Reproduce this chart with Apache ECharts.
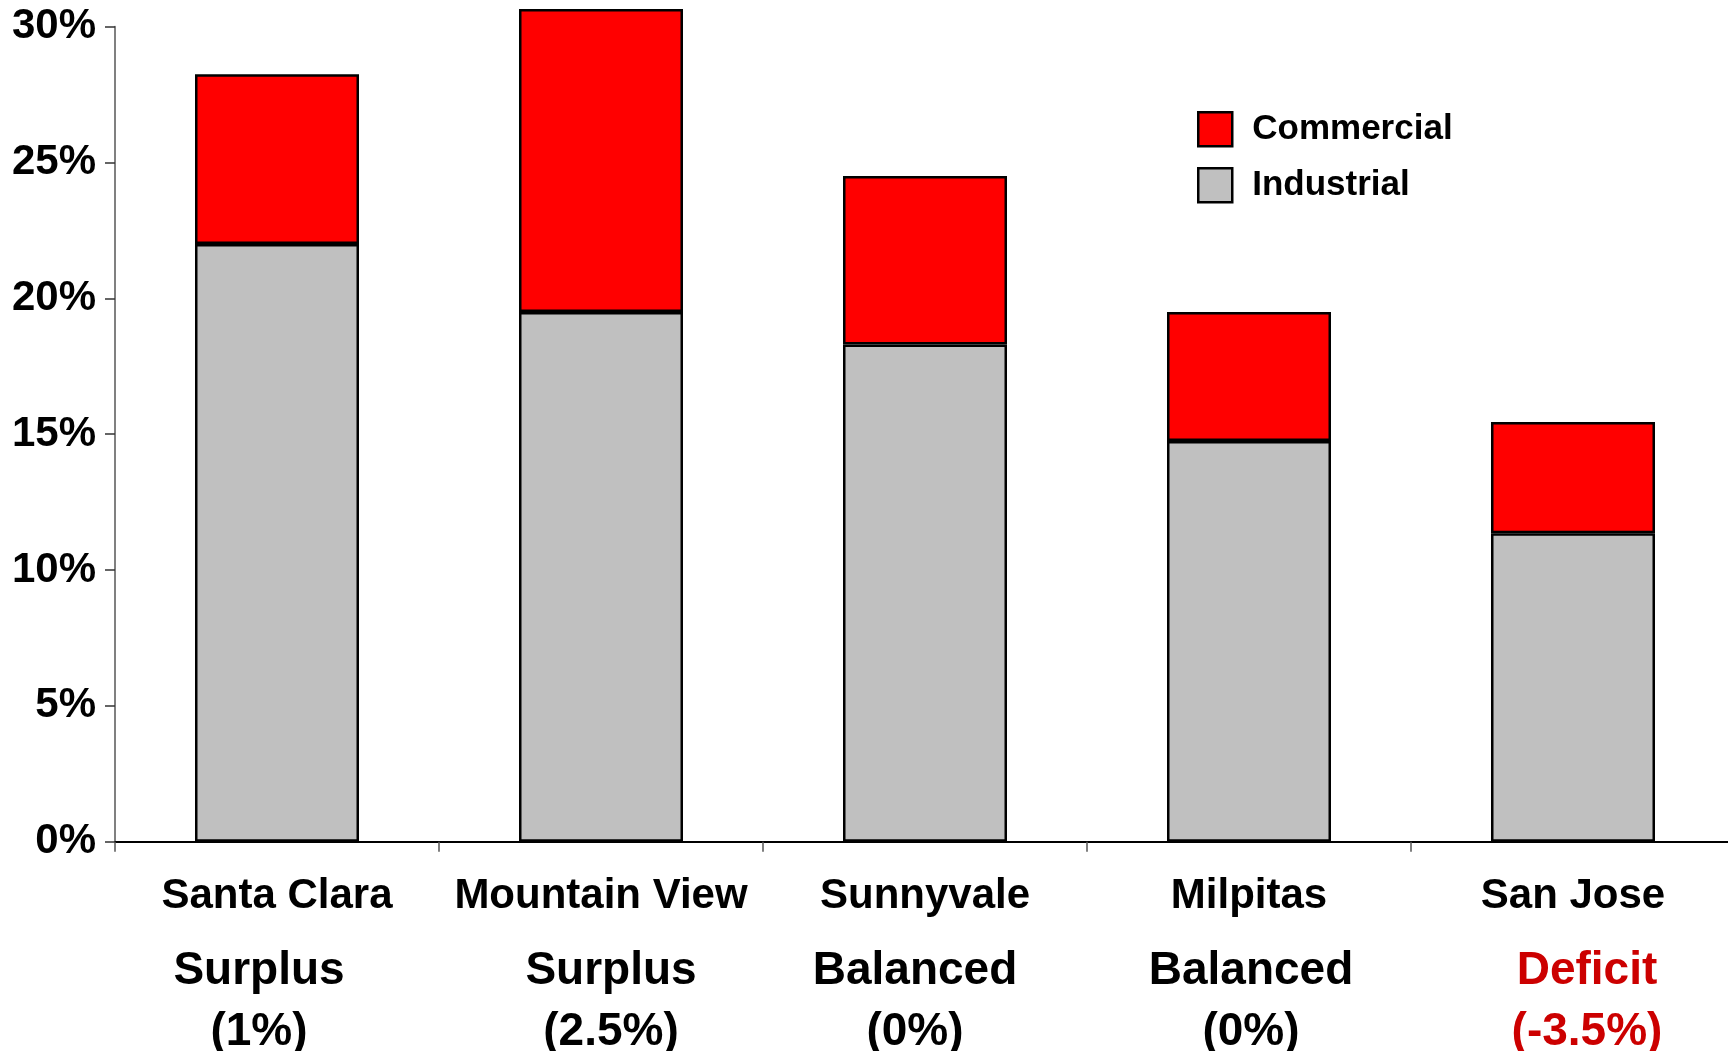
<!DOCTYPE html>
<html>
<head>
<meta charset="utf-8">
<title>Industrial and Commercial Land Share by City</title>
<script src="https://cdn.jsdelivr.net/npm/echarts@6/dist/echarts.min.js"></script>
<style>
  html, body { margin: 0; padding: 0; background: #fff; }
  #chart { width: 1728px; height: 1051px; }
</style>
</head>
<body>
<div id="chart"></div>
<script>
// ---- data ----
const cities = ['Santa Clara', 'Mountain View', 'Sunnyvale', 'Milpitas', 'San Jose'];
const industrial = [22.0, 19.5, 18.3, 14.75, 11.35];
const commercial = [6.25, 11.15, 6.2, 4.75, 4.1];
const balanceStatus = ['Surplus', 'Surplus', 'Balanced', 'Balanced', 'Deficit'];
const balanceChange = ['(1%)', '(2.5%)', '(0%)', '(0%)', '(-3.5%)'];
const yMin = 0, yMax = 30, yStep = 5;

// ---- styling ----
const FONT = '"Liberation Sans", Arial, Helvetica, sans-serif';
const DEFICIT_RED = '#CC0000';
// horizontal nudge (px) of the balance lines under each city name
const balanceNudge = [-18, 10, -10, 2, 14];

const rich = {
  city: { fontFamily: FONT, fontSize: 42, fontWeight: 'bold', color: '#000', lineHeight: 89 }
};
cities.forEach((c, i) => {
  const s = balanceNudge[i];
  rich['b' + i] = {
    fontFamily: FONT,
    fontSize: 46,
    fontWeight: 'bold',
    color: balanceStatus[i] === 'Deficit' ? DEFICIT_RED : '#000',
    lineHeight: 61,
    padding: s >= 0 ? [0, 0, 0, 2 * s] : [0, -2 * s, 0, 0]
  };
});

const chart = echarts.init(document.getElementById('chart'), null, { renderer: 'canvas' });

chart.setOption({
  animation: false,
  backgroundColor: '#fff',
  grid: {
    left: 115,
    top: 26.7,
    width: 1620,
    bottom: 209.3,
    containLabel: false,
    outerBoundsMode: 'none'
  },
  legend: {
    orient: 'vertical',
    left: 1192,
    top: 106,
    icon: 'rect',
    itemWidth: 34,
    itemHeight: 34,
    itemGap: 19.5,
    data: ['Commercial', 'Industrial'],
    itemStyle: { borderColor: '#000', borderWidth: 2.5 },
    textStyle: {
      fontFamily: FONT,
      fontSize: 35,
      fontWeight: 'bold',
      color: '#000',
      padding: [0, 0, 0, 15]
    }
  },
  xAxis: {
    type: 'category',
    data: cities,
    axisLine: { show: true, lineStyle: { color: '#000', width: 2 } },
    axisTick: { show: true, length: 10, lineStyle: { color: '#555', width: 1.5 } },
    axisLabel: {
      interval: 0,
      margin: 10,
      formatter: (value, idx) =>
        '{city|' + value + '}\n{b' + idx + '|' + balanceStatus[idx] + '}\n{b' + idx + '|' + balanceChange[idx] + '}',
      rich: rich
    },
    splitLine: { show: false }
  },
  yAxis: {
    type: 'value',
    min: yMin,
    max: yMax,
    interval: yStep,
    axisLine: { show: true, lineStyle: { color: '#808080', width: 2 } },
    axisTick: { show: true, length: 10, lineStyle: { color: '#333', width: 1.5 } },
    splitLine: { show: false },
    axisLabel: {
      formatter: '{value}%',
      fontFamily: FONT,
      fontSize: 42,
      fontWeight: 'bold',
      color: '#000',
      margin: 19
    }
  },
  series: [
    {
      name: 'Industrial',
      type: 'bar',
      stack: 'share',
      data: industrial,
      barWidth: 164,
      clip: false,
      itemStyle: { color: '#C0C0C0', borderColor: '#000', borderWidth: 2.5 }
    },
    {
      name: 'Commercial',
      type: 'bar',
      stack: 'share',
      data: commercial,
      barWidth: 164,
      clip: false,
      itemStyle: { color: '#FF0000', borderColor: '#000', borderWidth: 2.5 }
    }
  ]
});
</script>
</body>
</html>
